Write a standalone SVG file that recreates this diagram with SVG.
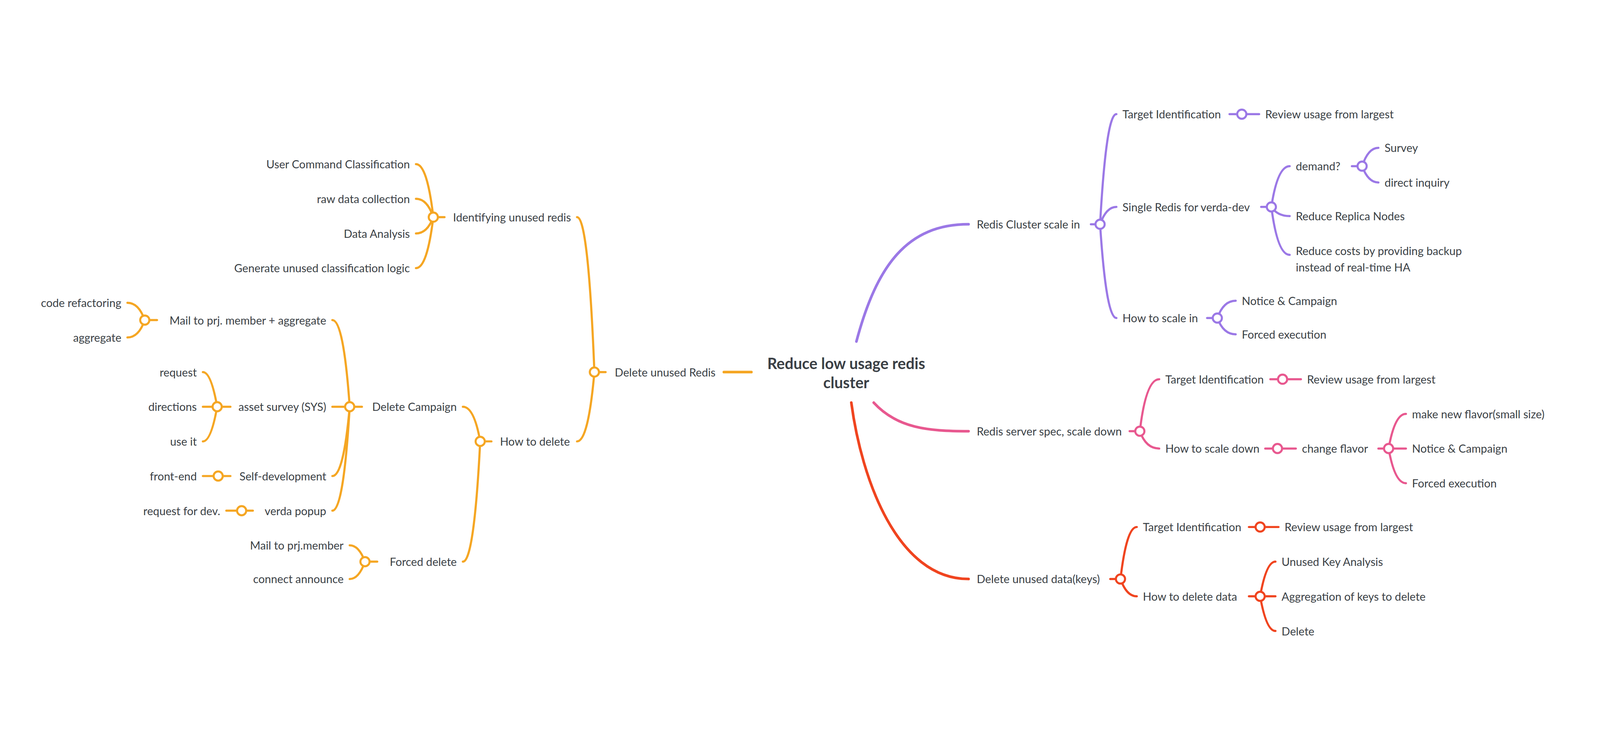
<svg xmlns="http://www.w3.org/2000/svg" width="4384" height="1928" viewBox="0 0 4384 1928">
<style>
text{font-family:Lato,"Open Sans","Liberation Sans",sans-serif;font-size:11px;fill:#3a3f45;dominant-baseline:central}
.e{text-anchor:end}
.root{font-size:15px;font-weight:bold;text-anchor:middle}
path,line{fill:none;stroke-linecap:round;stroke-width:2.1}
circle{fill:#fff;stroke-width:2}
.P path,.P line,.P circle{stroke:#9b78e6}
.K path,.K line,.K circle{stroke:#e8588f}
.R path,.R line,.R circle{stroke:#f0441f}
.O path,.O line,.O circle{stroke:#f5a623}
.main{stroke-width:2.6}
</style>
<rect width="4384" height="1928" fill="#fff"/>
<g transform="scale(2.61)">
<g id="connectors">
<g class="P">
<path class="main" d="M840,335 C860,260 890,220 950,220"/>
<line x1="1070" y1="220" x2="1074.5" y2="220"/>
<path d="M1079,220 Q1085,112 1095,112 M1079,220 Q1085,203 1095,203 M1079,220 Q1085,312 1095,312"/>
<line x1="1206" y1="112" x2="1235" y2="112"/>
<line x1="1237" y1="203" x2="1242" y2="203"/>
<path d="M1247,203 Q1253,163 1265,163 M1247,203 Q1253,212 1265,212 M1247,203 Q1253,250 1265,250"/>
<line x1="1326" y1="163" x2="1331" y2="163"/>
<path d="M1336,163 Q1342,145 1352,145 M1336,163 Q1342,179 1352,179"/>
<line x1="1184" y1="312" x2="1189" y2="312"/>
<path d="M1194,312 Q1200,295 1212,295 M1194,312 Q1200,328 1212,328"/>
</g>
<g class="K">
<path class="main" d="M857,395 C880,420 910,423 950,423"/>
<line x1="1108" y1="423" x2="1113" y2="423"/>
<path d="M1118,423 Q1124,372 1137,372 M1118,423 Q1124,440 1137,440"/>
<line x1="1246" y1="372" x2="1276" y2="372"/>
<line x1="1241" y1="440" x2="1271" y2="440"/>
<line x1="1352" y1="440" x2="1357" y2="440"/>
<path d="M1362,440 Q1368,406 1379,406 M1362,440 Q1368,440 1379,440 M1362,440 Q1368,474 1379,474"/>
</g>
<g class="R">
<path class="main" d="M835,395 C845,470 880,568 950,568"/>
<line x1="1089" y1="568" x2="1094" y2="568"/>
<path d="M1099,568 Q1105,517 1115,517 M1099,568 Q1105,585 1115,585"/>
<line x1="1225" y1="517" x2="1254" y2="517"/>
<line x1="1225" y1="585" x2="1231" y2="585"/>
<path d="M1236,585 Q1242,551 1251,551 M1236,585 Q1242,585 1251,585 M1236,585 Q1242,619 1251,619"/>
</g>
<g class="O">
<line class="main" x1="710" y1="365" x2="737" y2="365"/>
<line x1="588" y1="365" x2="594" y2="365"/>
<path d="M583,365 Q577,213 566,213 M583,365 Q577,433 566,433"/>
<line x1="430" y1="213" x2="436" y2="213"/>
<path d="M425,213 Q419,161 408,161 M425,213 Q419,195 408,195 M425,213 Q419,229 408,229 M425,213 Q419,263 408,263"/>
<line x1="476" y1="433" x2="482" y2="433"/>
<path d="M471,433 Q465,399 454,399 M471,433 Q465,551 454,551"/>
<line x1="348" y1="399" x2="355" y2="399"/>
<path d="M343,399 Q337,314 326,314 M343,399 Q337,399 326,399 M343,399 Q337,467 326,467 M343,399 Q337,501 326,501"/>
<line x1="147" y1="314" x2="154" y2="314"/>
<path d="M142,314 Q136,297 125,297 M142,314 Q136,331 125,331"/>
<line x1="218" y1="399" x2="226" y2="399"/>
<path d="M213,399 Q207,365 199,365 M213,399 Q207,399 199,399 M213,399 Q207,433 199,433"/>
<line x1="199" y1="467" x2="226" y2="467"/>
<line x1="222" y1="501" x2="248" y2="501"/>
<line x1="363" y1="551" x2="370" y2="551"/>
<path d="M358,551 Q352,535 343,535 M358,551 Q352,568 343,568"/>
</g>
</g>
<g id="root"><text class="root" x="830" y="356">Reduce low usage redis</text><text class="root" x="830" y="375">cluster</text></g>
<g class="P">
<g id="n-p1"><text x="958" y="220">Redis Cluster scale in</text><circle cx="1079" cy="220" r="4.5"/></g>
<g id="n-p2"><text x="1101" y="112">Target Identification</text><circle cx="1218" cy="112" r="4.5"/></g>
<g id="n-p3"><text x="1241" y="112">Review usage from largest</text></g>
<g id="n-p4"><text x="1101" y="203">Single Redis for verda-dev</text><circle cx="1247" cy="203" r="4.5"/></g>
<g id="n-p5"><text x="1271" y="163">demand?</text><circle cx="1336" cy="163" r="4.5"/></g>
<g id="n-p6"><text x="1358" y="145">Survey</text></g>
<g id="n-p7"><text x="1358" y="179">direct inquiry</text></g>
<g id="n-p8"><text x="1271" y="212">Reduce Replica Nodes</text></g>
<g id="n-p9"><text x="1271" y="246">Reduce costs by providing backup</text><text x="1271" y="262">instead of real-time HA</text></g>
<g id="n-p10"><text x="1101" y="312">How to scale in</text><circle cx="1194" cy="312" r="4.5"/></g>
<g id="n-p11"><text x="1218" y="295">Notice &amp; Campaign</text></g>
<g id="n-p12"><text x="1218" y="328">Forced execution</text></g>
</g>
<g class="K">
<g id="n-k1"><text x="958" y="423">Redis server spec, scale down</text><circle cx="1118" cy="423" r="4.5"/></g>
<g id="n-k2"><text x="1143" y="372">Target Identification</text><circle cx="1258" cy="372" r="4.5"/></g>
<g id="n-k3"><text x="1282" y="372">Review usage from largest</text></g>
<g id="n-k4"><text x="1143" y="440">How to scale down</text><circle cx="1253" cy="440" r="4.5"/></g>
<g id="n-k5"><text x="1277" y="440">change flavor</text><circle cx="1362" cy="440" r="4.5"/></g>
<g id="n-k6"><text x="1385" y="406">make new flavor(small size)</text></g>
<g id="n-k7"><text x="1385" y="440">Notice &amp; Campaign</text></g>
<g id="n-k8"><text x="1385" y="474">Forced execution</text></g>
</g>
<g class="R">
<g id="n-r1"><text x="958" y="568">Delete unused data(keys)</text><circle cx="1099" cy="568" r="4.5"/></g>
<g id="n-r2"><text x="1121" y="517">Target Identification</text><circle cx="1236" cy="517" r="4.5"/></g>
<g id="n-r3"><text x="1260" y="517">Review usage from largest</text></g>
<g id="n-r4"><text x="1121" y="585">How to delete data</text><circle cx="1236" cy="585" r="4.5"/></g>
<g id="n-r5"><text x="1257" y="551">Unused Key Analysis</text></g>
<g id="n-r6"><text x="1257" y="585">Aggregation of keys to delete</text></g>
<g id="n-r7"><text x="1257" y="619">Delete</text></g>
</g>
<g class="O">
<g id="n-o1"><text x="603" y="365">Delete unused Redis</text><circle cx="583" cy="365" r="4.5"/></g>
<g id="n-o2"><text class="e" x="560" y="213">Identifying unused redis</text><circle cx="425" cy="213" r="4.5"/></g>
<g id="n-o3"><text class="e" x="402" y="161">User Command Classification</text></g>
<g id="n-o4"><text class="e" x="402" y="195">raw data collection</text></g>
<g id="n-o5"><text class="e" x="402" y="229">Data Analysis</text></g>
<g id="n-o6"><text class="e" x="402" y="263">Generate unused classification logic</text></g>
<g id="n-o7"><text class="e" x="559" y="433">How to delete</text><circle cx="471" cy="433" r="4.5"/></g>
<g id="n-o8"><text class="e" x="448" y="399">Delete Campaign</text><circle cx="343" cy="399" r="4.5"/></g>
<g id="n-o9"><text class="e" x="320" y="314">Mail to prj. member + aggregate</text><circle cx="142" cy="314" r="4.5"/></g>
<g id="n-o10"><text class="e" x="119" y="297">code refactoring</text></g>
<g id="n-o11"><text class="e" x="119" y="331">aggregate</text></g>
<g id="n-o12"><text class="e" x="320" y="399">asset survey (SYS)</text><circle cx="213" cy="399" r="4.5"/></g>
<g id="n-o13"><text class="e" x="193" y="365">request</text></g>
<g id="n-o14"><text class="e" x="193" y="399">directions</text></g>
<g id="n-o15"><text class="e" x="193" y="433">use it</text></g>
<g id="n-o16"><text class="e" x="320" y="467">Self-development</text><circle cx="214" cy="467" r="4.5"/></g>
<g id="n-o17"><text class="e" x="193" y="467">front-end</text></g>
<g id="n-o18"><text class="e" x="320" y="501">verda popup</text><circle cx="237" cy="501" r="4.5"/></g>
<g id="n-o19"><text class="e" x="216" y="501">request for dev.</text></g>
<g id="n-o20"><text class="e" x="448" y="551">Forced delete</text><circle cx="358" cy="551" r="4.5"/></g>
<g id="n-o21"><text class="e" x="337" y="535">Mail to prj.member</text></g>
<g id="n-o22"><text class="e" x="337" y="568">connect announce</text></g>
</g>
</g>
</svg>
